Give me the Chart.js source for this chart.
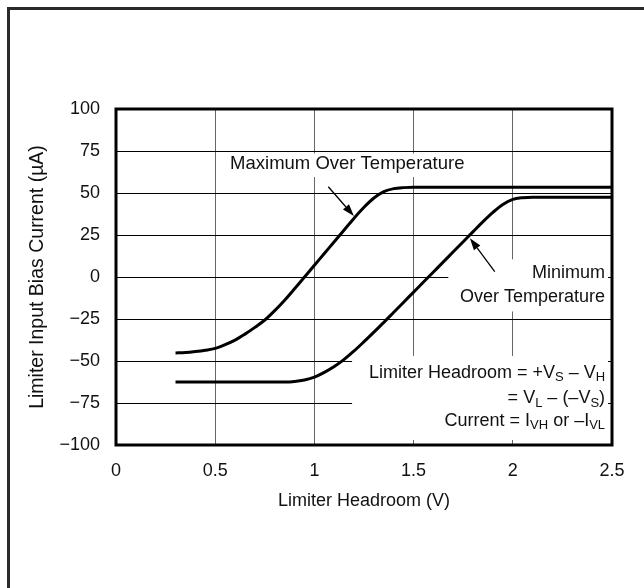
<!DOCTYPE html>
<html>
<head>
<meta charset="utf-8">
<script src="https://cdn.jsdelivr.net/npm/chart.js@4.4.0/dist/chart.umd.min.js"></script>
<style>
  html, body { margin: 0; padding: 0; background: #fff; }
  .wrap { position: relative; width: 644px; height: 588px; overflow: hidden; }
  canvas { display: block; }
</style>
</head>
<body>
<div class="wrap"><canvas id="biasChart" width="644" height="588"></canvas></div>
<script>
// curve: maximum over temperature
const headroomMax = [0.3, 0.35, 0.4, 0.45, 0.5, 0.55, 0.6, 0.65, 0.7, 0.75, 0.8, 0.85, 0.9, 0.95, 1.0, 1.05, 1.1, 1.15, 1.2, 1.25, 1.3, 1.35, 1.4, 1.45, 1.5, 2.0, 2.5];
const currentMax  = [-45.2, -45, -44.4, -43.6, -42.5, -40.3, -37.6, -34, -30, -25.6, -20, -13.8, -7, 0, 7, 14, 21, 28, 35, 41.5, 47, 50.8, 52.6, 53.2, 53.4, 53.4, 53.4];

// minimum over temperature
const headroomMin = [0.3, 0.85, 0.9, 0.95, 1.0, 1.05, 1.1, 1.15, 1.2, 1.25, 1.3, 1.35, 1.4, 1.45, 1.5, 1.55, 1.6, 1.65, 1.7, 1.75, 1.8, 1.85, 1.9, 1.95, 2.0, 2.05, 2.1, 2.5];
const currentMin  = [-62.5, -62.5, -62.2, -61.3, -59.6, -56.8, -53.3, -49, -44, -38.5, -32.8, -27, -21, -15, -9, -3, 3, 9, 15, 21, 27, 33, 38.5, 43.2, 46.2, 47.2, 47.5, 47.5];

const xTicks = [0, 0.5, 1, 1.5, 2, 2.5];
const yTicks = [-100, -75, -50, -25, 0, 25, 50, 75, 100];

const FONT = '"Liberation Sans", Arial, Helvetica, sans-serif';
const TEXT = '#111';

function toPoints(xs, ys) {
  return xs.map((x, i) => ({ x: x, y: ys[i] }));
}

// right aligned text with subscripts, parts = [[text, isSub], ...]
function drawRich(ctx, parts, xRight, y) {
  const big = '18px ' + FONT, small = '13px ' + FONT;
  let total = 0;
  parts.forEach(p => { ctx.font = p[1] ? small : big; total += ctx.measureText(p[0]).width; });
  let x = xRight - total;
  ctx.textAlign = 'left';
  parts.forEach(p => {
    ctx.font = p[1] ? small : big;
    ctx.fillText(p[0], x, p[1] ? y + 5 : y);
    x += ctx.measureText(p[0]).width;
  });
}

function arrow(ctx, x1, y1, x2, y2) {
  const ang = Math.atan2(y2 - y1, x2 - x1);
  const len = 12, half = 4;
  ctx.beginPath();
  ctx.moveTo(x1, y1);
  ctx.lineTo(x2 - Math.cos(ang) * len, y2 - Math.sin(ang) * len);
  ctx.lineWidth = 1.3;
  ctx.stroke();
  ctx.beginPath();
  ctx.moveTo(x2, y2);
  ctx.lineTo(x2 - Math.cos(ang) * len + Math.sin(ang) * half, y2 - Math.sin(ang) * len - Math.cos(ang) * half);
  ctx.lineTo(x2 - Math.cos(ang) * len - Math.sin(ang) * half, y2 - Math.sin(ang) * len + Math.cos(ang) * half);
  ctx.closePath();
  ctx.fill();
}

const annotations = {
  id: 'annotations',
  beforeDraw(chart) {
    const ctx = chart.ctx;
    ctx.save();
    ctx.strokeStyle = '#2b2b2b';
    ctx.lineWidth = 3;
    ctx.strokeRect(8.5, 8.5, 1000, 1000);
    ctx.restore();
  },
  beforeDatasetsDraw(chart) {
    // white boxes behind the labels hide the grid
    const ctx = chart.ctx, xs = chart.scales.x, ys = chart.scales.y;
    const boxes = [[0.56, 1.78, 73.5, 59.5], [1.675, 2.48, 10.5, -20.5], [1.19, 2.48, -47, -97]];
    ctx.save();
    ctx.fillStyle = '#fff';
    boxes.forEach(b => {
      const l = xs.getPixelForValue(b[0]), r = xs.getPixelForValue(b[1]);
      const t = ys.getPixelForValue(b[2]), btm = ys.getPixelForValue(b[3]);
      ctx.fillRect(l, t, r - l, btm - t);
    });
    ctx.restore();
  },
  afterDatasetsDraw(chart) {
    const ctx = chart.ctx, xs = chart.scales.x, ys = chart.scales.y;
    const a = chart.chartArea;
    const px = v => xs.getPixelForValue(v), py = v => ys.getPixelForValue(v);
    ctx.save();
    // plot frame
    ctx.strokeStyle = '#000';
    ctx.lineWidth = 3;
    ctx.strokeRect(a.left, a.top, a.right - a.left, a.bottom - a.top);

    ctx.fillStyle = TEXT;
    ctx.strokeStyle = '#000';
    ctx.textBaseline = 'middle';
    ctx.font = '18.5px ' + FONT;
    ctx.textAlign = 'left';
    ctx.fillText('Maximum Over Temperature', px(0.575), py(67.5));
    ctx.font = '18px ' + FONT;
    ctx.textAlign = 'right';
    ctx.fillText('Minimum', px(2.465), py(2.5));
    ctx.fillText('Over Temperature', px(2.465), py(-11.8));

    drawRich(ctx, [['Limiter Headroom = +V', false], ['S', true], [' \u2013 V', false], ['H', true]], px(2.465), py(-57));
    drawRich(ctx, [['= V', false], ['L', true], [' \u2013 (\u2013V', false], ['S', true], [')', false]], px(2.465), py(-72));
    drawRich(ctx, [['Current = I', false], ['VH', true], [' or \u2013I', false], ['VL', true]], px(2.465), py(-85.5));

    ctx.fillStyle = '#000';
    arrow(ctx, px(1.07), py(53.7), px(1.199), py(36.3));
    arrow(ctx, px(1.909), py(3.2), px(1.784), py(23));

    // axis titles
    ctx.fillStyle = TEXT;
    ctx.font = '18px ' + FONT;
    ctx.textAlign = 'center';
    ctx.fillText('Limiter Headroom (V)', (a.left + a.right) / 2, 501);
    ctx.font = '19.5px ' + FONT;
    ctx.translate(38, (a.top + a.bottom) / 2);
    ctx.rotate(-Math.PI / 2);
    ctx.fillText('Limiter Input Bias Current (\u00b5A)', 0, 0);
    ctx.restore();
  }
};

new Chart(document.getElementById('biasChart'), {
  type: 'line',
  data: {
    datasets: [
      {
        label: 'Maximum Over Temperature',
        data: toPoints(headroomMax, currentMax),
        borderColor: '#000',
        borderWidth: 3,
        pointRadius: 0,
        cubicInterpolationMode: 'monotone',
        fill: false
      },
      {
        label: 'Minimum Over Temperature',
        data: toPoints(headroomMin, currentMin),
        borderColor: '#000',
        borderWidth: 3,
        pointRadius: 0,
        cubicInterpolationMode: 'monotone',
        fill: false
      }
    ]
  },
  options: {
    responsive: false,
    animation: false,
    layout: { padding: { top: 109, right: 32, left: 0, bottom: 0 } },
    plugins: { legend: { display: false }, tooltip: { enabled: false } },
    scales: {
      x: {
        type: 'linear',
        min: xTicks[0],
        max: xTicks[xTicks.length - 1],
        afterBuildTicks: s => { s.ticks = xTicks.map(v => ({ value: v })); },
        afterFit: s => { s.height = 143; },
        ticks: { color: TEXT, font: { family: FONT, size: 18 }, padding: 15, maxRotation: 0, callback: v => String(v) },
        grid: { color: '#666', lineWidth: 1, drawTicks: false },
        border: { display: false }
      },
      y: {
        type: 'linear',
        min: yTicks[0],
        max: yTicks[yTicks.length - 1],
        afterBuildTicks: s => { s.ticks = yTicks.map(v => ({ value: v })); },
        afterFit: s => { s.width = 116; },
        ticks: {
          color: TEXT,
          font: { family: FONT, size: 18 },
          padding: 16,
          callback: v => String(v).replace('-', '\u2212')
        },
        grid: { color: '#000', lineWidth: 1, drawTicks: false },
        border: { display: false }
      }
    }
  },
  plugins: [annotations]
});
</script>
</body>
</html>
